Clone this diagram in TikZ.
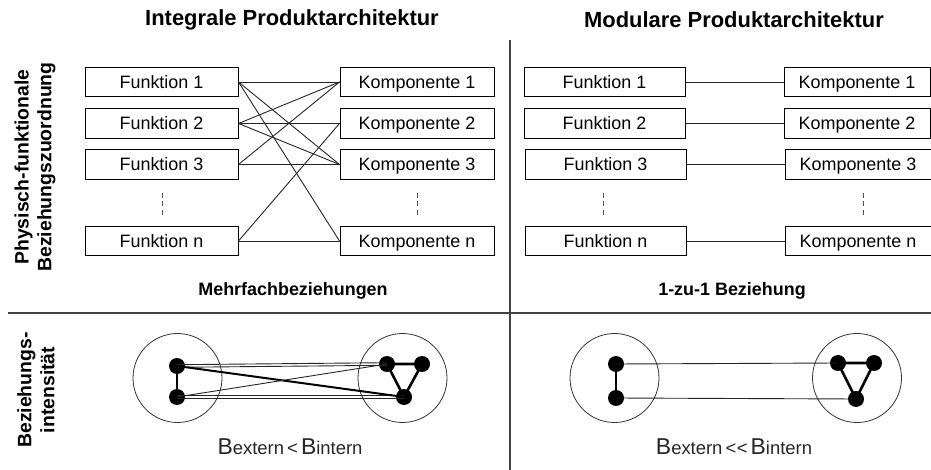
\documentclass[tikz,border=0pt]{standalone}
\usepackage{fontspec}
\setmainfont{Liberation Sans}
\begin{document}
\begin{tikzpicture}[x=1bp,y=-1bp,
  box/.style={draw=black, line width=1bp, minimum height=29.5bp, inner sep=0pt,
    text height=12.8bp, text depth=0pt, font=\fontsize{18}{20}\selectfont},
  fbox/.style={box, minimum width=153bp},
  kbox/.style={box, minimum width=154bp},
  mfbox/.style={box, minimum width=161bp},
  mkbox/.style={box, minimum width=146bp},
  link/.style={draw=black!85, line width=0.9bp},
  vdots/.style={draw=black!70, line width=0.8bp, dash pattern=on 5bp off 3.5bp},
  sep/.style={draw=black!75, line width=1.6bp},
  title/.style={font=\fontsize{22}{24}\selectfont\bfseries, inner sep=0pt},
  sublabel/.style={font=\fontsize{18}{20}\selectfont\bfseries, inner sep=0pt},
  sidelabel/.style={font=\fontsize{19.5}{23}\selectfont\bfseries, rotate=90, align=center, inner sep=0pt},
  ring/.style={draw=black!80, circle, line width=0.8bp, minimum size=89bp, inner sep=0pt},
  dot/.style={fill=black, circle, minimum size=16bp, inner sep=0pt},
  inner/.style={draw=black, line width=2.6bp},
  ext/.style={draw=black!85, line width=0.9bp},
  extthick/.style={draw=black, line width=2bp},
  formula/.style={inner sep=0pt, text=black!85}
]
\useasboundingbox (0,0) rectangle (931,470);

% section separators
\draw[sep] (8,313) -- (931,313);
\draw[sep] (510,40) -- (510,470);

% headings
\node[title] (tint) at (292,20) {Integrale Produktarchitektur};
\node[title] (tmod) at (734,20) {Modulare Produktarchitektur};
\node[sidelabel] (szu) at (35,167) {Physisch-funktionale\\Beziehungszuordnung};
\node[sidelabel] (sint) at (36,390) {Beziehungs-\\intensität};

% integral architecture: functions and components
\node[fbox] (f1) at (161.5,82)    {Funktion 1};
\node[fbox] (f2) at (161.5,123.5) {Funktion 2};
\node[fbox] (f3) at (161.5,164.5) {Funktion 3};
\node[fbox] (fn) at (161.5,241)   {Funktion n};
\node[kbox] (k1) at (417,82)    {Komponente 1};
\node[kbox] (k2) at (417,123.5) {Komponente 2};
\node[kbox] (k3) at (417,164.5) {Komponente 3};
\node[kbox] (kn) at (417,241)   {Komponente n};
\draw[vdots] (162,193) -- (162,218);
\draw[vdots] (417,193) -- (417,218);

\draw[link] (f1.east) -- (k1.west);
\draw[link] (f1.east) -- (k3.west);
\draw[link] (f1.east) -- (kn.west);
\draw[link] (f2.east) -- (k1.west);
\draw[link] (f2.east) -- (k2.west);
\draw[link] (f2.east) -- (k3.west);
\draw[link] (f3.east) -- (k1.west);
\draw[link] (f3.east) -- (k3.west);
\draw[link] (fn.east) -- (k2.west);
\draw[link] (fn.east) -- (kn.west);

\node[sublabel] (lmehr) at (293,291) {Mehrfachbeziehungen};

% modular architecture: functions and components
\node[mfbox] (mf1) at (604.5,82)    {Funktion 1};
\node[mfbox] (mf2) at (604.5,123.5) {Funktion 2};
\node[mfbox] (mf3) at (605.5,164.5) {Funktion 3};
\node[mfbox] (mfn) at (605.5,241)   {Funktion n};
\node[mkbox] (mk1) at (857,82)    {Komponente 1};
\node[mkbox] (mk2) at (857,123.5) {Komponente 2};
\node[mkbox] (mk3) at (858,164.5) {Komponente 3};
\node[mkbox] (mkn) at (858,241)   {Komponente n};
\draw[vdots] (603,193) -- (603,218);
\draw[vdots] (863,193) -- (863,218);

\draw[link] (mf1) -- (mk1);
\draw[link] (mf2) -- (mk2);
\draw[link] (mf3) -- (mk3);
\draw[link] (mfn) -- (mkn);

\node[sublabel] (leins) at (732,291) {1-zu-1 Beziehung};

% relationship intensity, integral case
\node[ring] (ila) at (177.5,378) {};
\node[ring] (ira) at (402.5,378) {};
\node[dot] (iu) at (177,366) {};
\node[dot] (il) at (177,397) {};
\node[dot] (ia) at (387,364) {};
\node[dot] (ib) at (422,364) {};
\node[dot] (ic) at (404,397) {};
\draw[inner] (iu.center) -- (il.center);
\draw[inner] (ia.center) -- (ib.center) -- (ic.center) -- cycle;
\draw[ext] ([yshift=1.3bp]iu.center) -- ([yshift=1.3bp]ia.center);
\draw[ext] ([yshift=-1.3bp]iu.center) -- ([yshift=-1.3bp]ia.center);
\draw[ext] ([yshift=1.5bp]il.center) -- ([yshift=1.5bp]ic.center);
\draw[ext] ([yshift=-1.5bp]il.center) -- ([yshift=-1.5bp]ic.center);
\draw[extthick] (iu.center) -- (ic.center);
\draw[ext] (il.center) -- (ia.center);

\node[formula] (fint) at (290,447) {{\fontsize{23}{24}\selectfont B}{\fontsize{18.5}{20}\selectfont extern\,<\,}{\fontsize{23}{24}\selectfont B}{\fontsize{18.5}{20}\selectfont intern}};

% relationship intensity, modular case
\node[ring] (mla) at (614.5,378) {};
\node[ring] (mra) at (857,378) {};
\node[dot] (mu) at (616,364) {};
\node[dot] (ml) at (616,398) {};
\node[dot] (ma) at (838,363) {};
\node[dot] (mb) at (874,363) {};
\node[dot] (mc) at (856,399) {};
\draw[inner] (mu.center) -- (ml.center);
\draw[inner] (ma.center) -- (mb.center) -- (mc.center) -- cycle;
\draw[ext] (mu.center) -- (ma.center);
\draw[ext] (ml.center) -- (mc.center);

\node[formula] (fmod) at (734,447) {{\fontsize{23}{24}\selectfont B}{\fontsize{18.5}{20}\selectfont extern\,<{}\kern0.5bp<\,}{\fontsize{23}{24}\selectfont B}{\fontsize{18.5}{20}\selectfont intern}};
\end{tikzpicture}
\end{document}
